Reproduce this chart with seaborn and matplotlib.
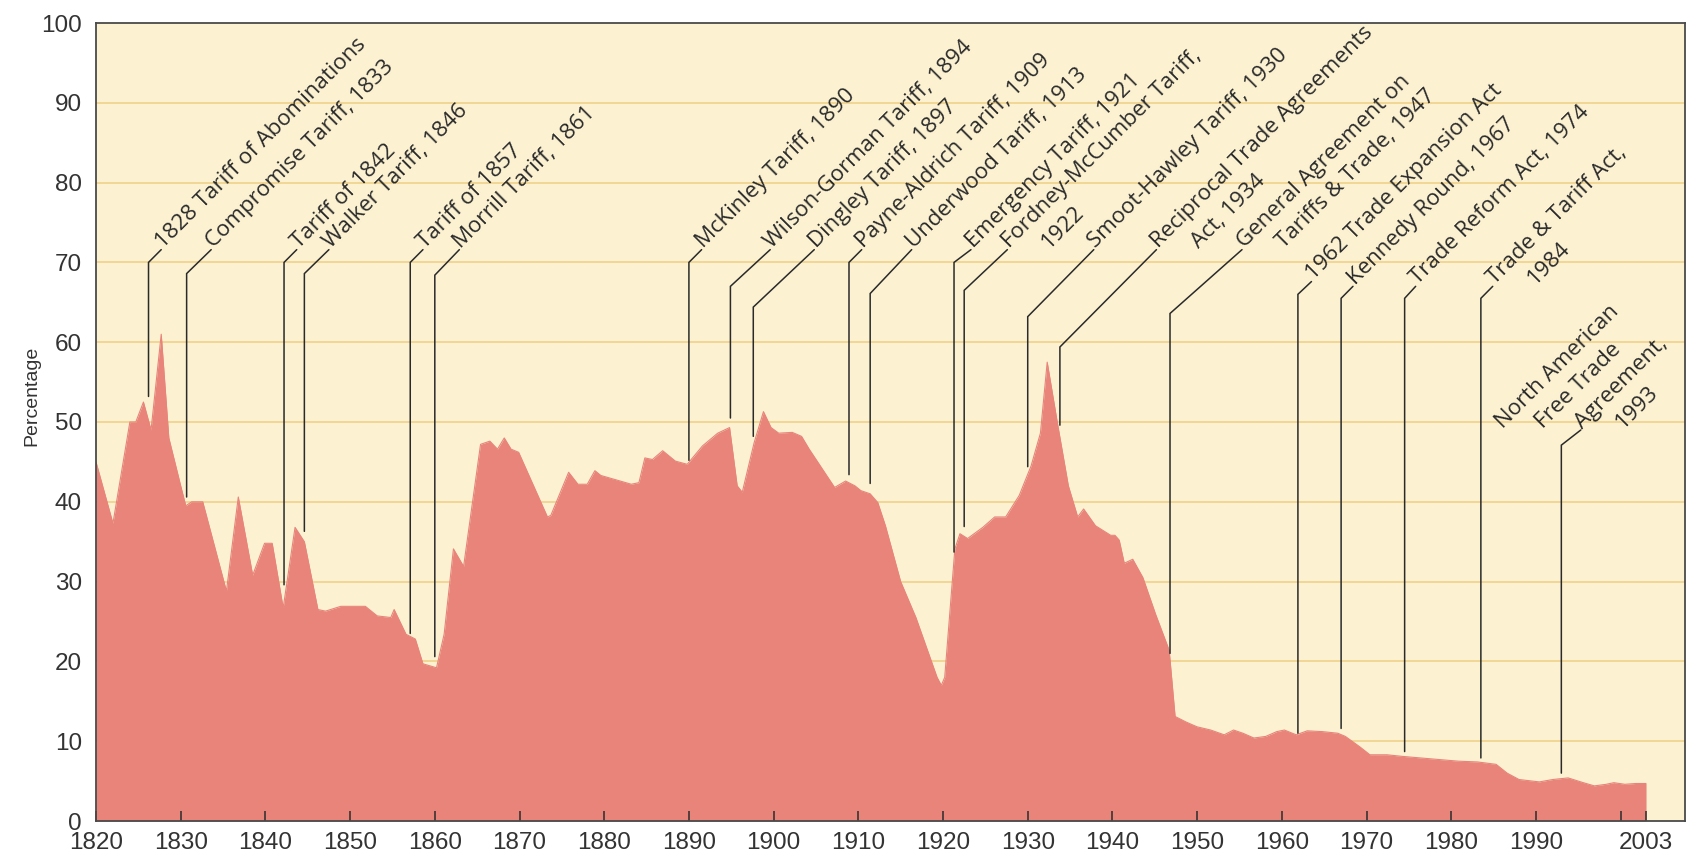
import matplotlib
matplotlib.use("Agg")
import matplotlib.pyplot as plt
from matplotlib import font_manager
import numpy as np
import pandas as pd
import seaborn as sns

# ---------------- data ----------------
years = [1820.0, 1822.0, 1824.0, 1824.7, 1825.6, 1826.5, 1827.7, 1828.6, 1830.0, 1830.6,
         1831.3, 1832.6, 1835.4, 1836.8, 1838.5, 1839.9, 1840.8, 1842.1, 1843.5, 1844.6,
         1846.2, 1847.1, 1848.9, 1851.8, 1853.2, 1854.8, 1855.2, 1856.6, 1857.7, 1858.6,
         1860.2, 1861.1, 1862.2, 1863.4, 1865.4, 1866.5, 1867.4, 1868.2, 1869.0, 1869.9,
         1873.3, 1873.7, 1875.8, 1876.9, 1878.0, 1878.9, 1879.6, 1883.2, 1884.1, 1884.8,
         1885.7, 1886.9, 1888.4, 1889.8, 1891.6, 1893.4, 1894.8, 1895.7, 1896.3, 1897.7,
         1898.8, 1899.7, 1900.6, 1902.2, 1903.3, 1904.2, 1907.2, 1908.5, 1909.6, 1910.3,
         1911.4, 1912.3, 1913.2, 1915.0, 1916.8, 1918.2, 1919.3, 1919.8, 1920.2, 1921.4,
         1922.0, 1922.9, 1924.7, 1926.1, 1927.4, 1929.0, 1930.4, 1931.5, 1932.3, 1933.5,
         1934.8, 1935.9, 1936.6, 1938.0, 1939.8, 1940.3, 1940.8, 1941.4, 1942.4, 1943.6,
         1945.1, 1946.7, 1947.4, 1948.7, 1950.0, 1951.6, 1953.2, 1954.3, 1955.4, 1956.7,
         1958.1, 1959.4, 1960.3, 1961.7, 1963.0, 1964.8, 1966.6, 1967.5, 1969.2, 1970.4,
         1972.4, 1974.2, 1976.4, 1978.6, 1980.8, 1983.1, 1985.3, 1986.6, 1988.0, 1990.4,
         1992.0, 1993.8, 1995.6, 1996.9, 1998.3, 1999.2, 2000.5, 2001.8, 2003.0]
rates = [45.0, 37.3, 50.0, 50.0, 52.5, 49.0, 61.0, 48.0, 42.0, 39.5,
         40.0, 40.0, 28.8, 40.6, 30.8, 34.8, 34.8, 26.7, 36.8, 35.0,
         26.5, 26.3, 26.9, 26.9, 25.7, 25.5, 26.5, 23.4, 22.8, 19.7,
         19.2, 23.4, 34.1, 31.9, 47.2, 47.6, 46.6, 48.0, 46.6, 46.2,
         38.1, 38.3, 43.7, 42.2, 42.2, 43.9, 43.3, 42.2, 42.4, 45.5,
         45.3, 46.4, 45.1, 44.7, 47.0, 48.6, 49.3, 42.0, 41.2, 47.4,
         51.3, 49.3, 48.6, 48.7, 48.2, 46.6, 41.8, 42.6, 42.0, 41.4,
         41.0, 39.9, 37.0, 30.0, 25.5, 21.3, 18.0, 17.0, 18.0, 34.1,
         36.0, 35.4, 36.8, 38.1, 38.1, 40.8, 44.5, 48.6, 57.5, 49.9,
         42.0, 38.1, 39.1, 37.0, 35.8, 35.8, 35.2, 32.3, 32.8, 30.5,
         25.9, 21.4, 13.1, 12.4, 11.8, 11.4, 10.8, 11.4, 11.0, 10.4,
         10.6, 11.2, 11.4, 10.8, 11.3, 11.2, 11.0, 10.6, 9.3, 8.3,
         8.3, 8.1, 7.9, 7.7, 7.5, 7.4, 7.1, 6.0, 5.2, 4.9,
         5.2, 5.4, 4.8, 4.4, 4.6, 4.8, 4.6, 4.7, 4.7]

tick_years = [1820, 1830, 1840, 1850, 1860, 1870, 1880, 1890, 1900, 1910,
              1920, 1930, 1940, 1950, 1960, 1970, 1980, 1990, 2000, 2003]
tick_labels = ['1820', '1830', '1840', '1850', '1860', '1870', '1880', '1890', '1900', '1910',
               '1920', '1930', '1940', '1950', '1960', '1970', '1980', '1990', '', '2003']
y_ticks = [0, 10, 20, 30, 40, 50, 60, 70, 80, 90, 100]
y_label = 'Percentage'

ann_labels = ['1828 Tariff of Abominations', 'Compromise Tariff, 1833', 'Tariff of 1842',
              'Walker Tariff, 1846', 'Tariff of 1857', 'Morrill Tariff, 1861',
              'McKinley Tariff, 1890', 'Wilson-Gorman Tariff, 1894', 'Dingley Tariff, 1897',
              'Payne-Aldrich Tariff, 1909', 'Underwood Tariff, 1913', 'Emergency Tariff, 1921',
              'Fordney-McCumber Tariff,\n1922', 'Smoot-Hawley Tariff, 1930',
              'Reciprocal Trade Agreements\nAct, 1934', 'General Agreement on\nTariffs & Trade, 1947',
              '1962 Trade Expansion Act', 'Kennedy Round, 1967', 'Trade Reform Act, 1974',
              'Trade & Tariff Act,\n1984', 'North American\nFree Trade\nAgreement,\n1993']
ann_x = [1826.2, 1830.7, 1842.2, 1844.6, 1857.1, 1860.0, 1890.0, 1894.9, 1897.6, 1908.9,
         1911.4, 1921.3, 1922.5, 1930.0, 1933.8, 1946.8, 1961.9, 1967.0, 1974.5, 1983.5, 1993.0]
ann_bottom = [53.2, 40.6, 29.6, 36.3, 23.5, 20.6, 45.2, 50.5, 48.2, 43.4,
              42.3, 33.7, 36.9, 44.4, 49.6, 21.0, 11.0, 11.6, 8.7, 7.9, 6.0]
ann_bend = [70.0, 68.6, 70.0, 68.6, 70.0, 68.4, 70.0, 67.0, 64.4, 70.0,
            66.1, 70.0, 66.5, 63.2, 59.4, 63.6, 66.0, 65.5, 65.5, 65.5, 47.1]
ann_text_x = [1827.7, 1833.6, 1843.7, 1847.5, 1858.6, 1862.9, 1891.5, 1899.6, 1904.8, 1910.4,
              1916.3, 1923.3, 1927.6, 1937.8, 1945.2, 1955.3, 1963.5, 1968.4, 1975.8, 1984.9, 1995.3]
ann_text_y = [71.6, 71.6, 71.6, 71.6, 71.6, 71.6, 71.6, 71.6, 71.6, 71.6,
              71.6, 71.6, 71.6, 71.6, 71.6, 71.6, 67.6, 67.0, 67.0, 67.0, 49.0]
ann_lead_line = [0] * 20 + [2]

# ---------------- style ----------------
BG = '#fcf2d2'
FILL = '#e8847a'
GRID = '#efd18a'
INK = '#2a2a2a'

installed = {f.name for f in font_manager.fontManager.ttflist}
if 'Liberation Sans Narrow' in installed:
    TICKFONT, TICKSIZE, YLSIZE = 'Liberation Sans Narrow', 20, 16
else:
    TICKFONT, TICKSIZE, YLSIZE = 'Liberation Sans', 17.5, 14
ANNFONT = 'Open Sans' if 'Open Sans' in installed else 'DejaVu Sans'
ANNSIZE = 16 if ANNFONT == 'Open Sans' else 15.5

sns.set_theme(style='white')
plt.rcParams['font.family'] = [ANNFONT, 'DejaVu Sans']

W, H = 1692, 865
fig = plt.figure(figsize=(W / 100, H / 100), dpi=100)
fig.patch.set_facecolor('white')
ax = fig.add_axes([96 / W, 44 / H, 1589 / W, 798 / H])
ax.set_facecolor(BG)

df = pd.DataFrame({'year': years, 'rate': rates})
ax.fill_between(df['year'], 0, df['rate'], color=FILL, lw=0, zorder=2)
sns.lineplot(data=df, x='year', y='rate', color=FILL, lw=0.8, ax=ax, zorder=2.1)

for yv in y_ticks[1:-1]:
    ax.axhline(yv, color=GRID, lw=1.2, zorder=1)

ax.set_xlim(1820, 2007.6)
ax.set_ylim(0, 100)
ax.grid(False)
ax.set_axisbelow(False)

ax.set_xticks(tick_years)
ax.set_xticklabels(tick_labels)
ax.set_yticks(y_ticks)
ax.set_yticklabels([str(v) for v in y_ticks])
ax.set_xlabel('')
ax.set_ylabel('')
ax.tick_params(axis='x', direction='in', length=7, width=1.1, color=INK,
               labelcolor='#333333', pad=8, labelsize=TICKSIZE, bottom=True)
ax.tick_params(axis='y', length=0, pad=10, labelcolor='#333333', labelsize=TICKSIZE, left=True)
for lbl in ax.get_xticklabels() + ax.get_yticklabels():
    lbl.set_fontfamily(TICKFONT)

for sp in ax.spines.values():
    sp.set_visible(True)
    sp.set_color('#4a4a4a')
    sp.set_linewidth(1.3)
    sp.set_zorder(4)

fig.text(32 / W, 1 - 396 / H, y_label, rotation=90, ha='center', va='center',
         fontsize=YLSIZE, color='#333333', family=TICKFONT)

# ---------------- annotations ----------------
STEP = 40  # horizontal pixel shift between stacked lines
for lab, lx, yb, ybend, tx, ty, li in zip(ann_labels, ann_x, ann_bottom, ann_bend,
                                          ann_text_x, ann_text_y, ann_lead_line):
    ax.plot([lx, lx, tx], [yb, ybend, ty], color=INK, lw=1.1, zorder=3,
            solid_joinstyle='miter')
    for i, line in enumerate(lab.split('\n')):
        dx = STEP * (i - li) + 2
        ax.annotate(line, xy=(tx, ty), xycoords='data', xytext=(dx, 1),
                    textcoords='offset pixels', rotation=45, rotation_mode='anchor',
                    ha='left', va='baseline', fontsize=ANNSIZE, color=INK, zorder=5,
                    annotation_clip=False)

fig.savefig('out.png', dpi=100, facecolor='white')
